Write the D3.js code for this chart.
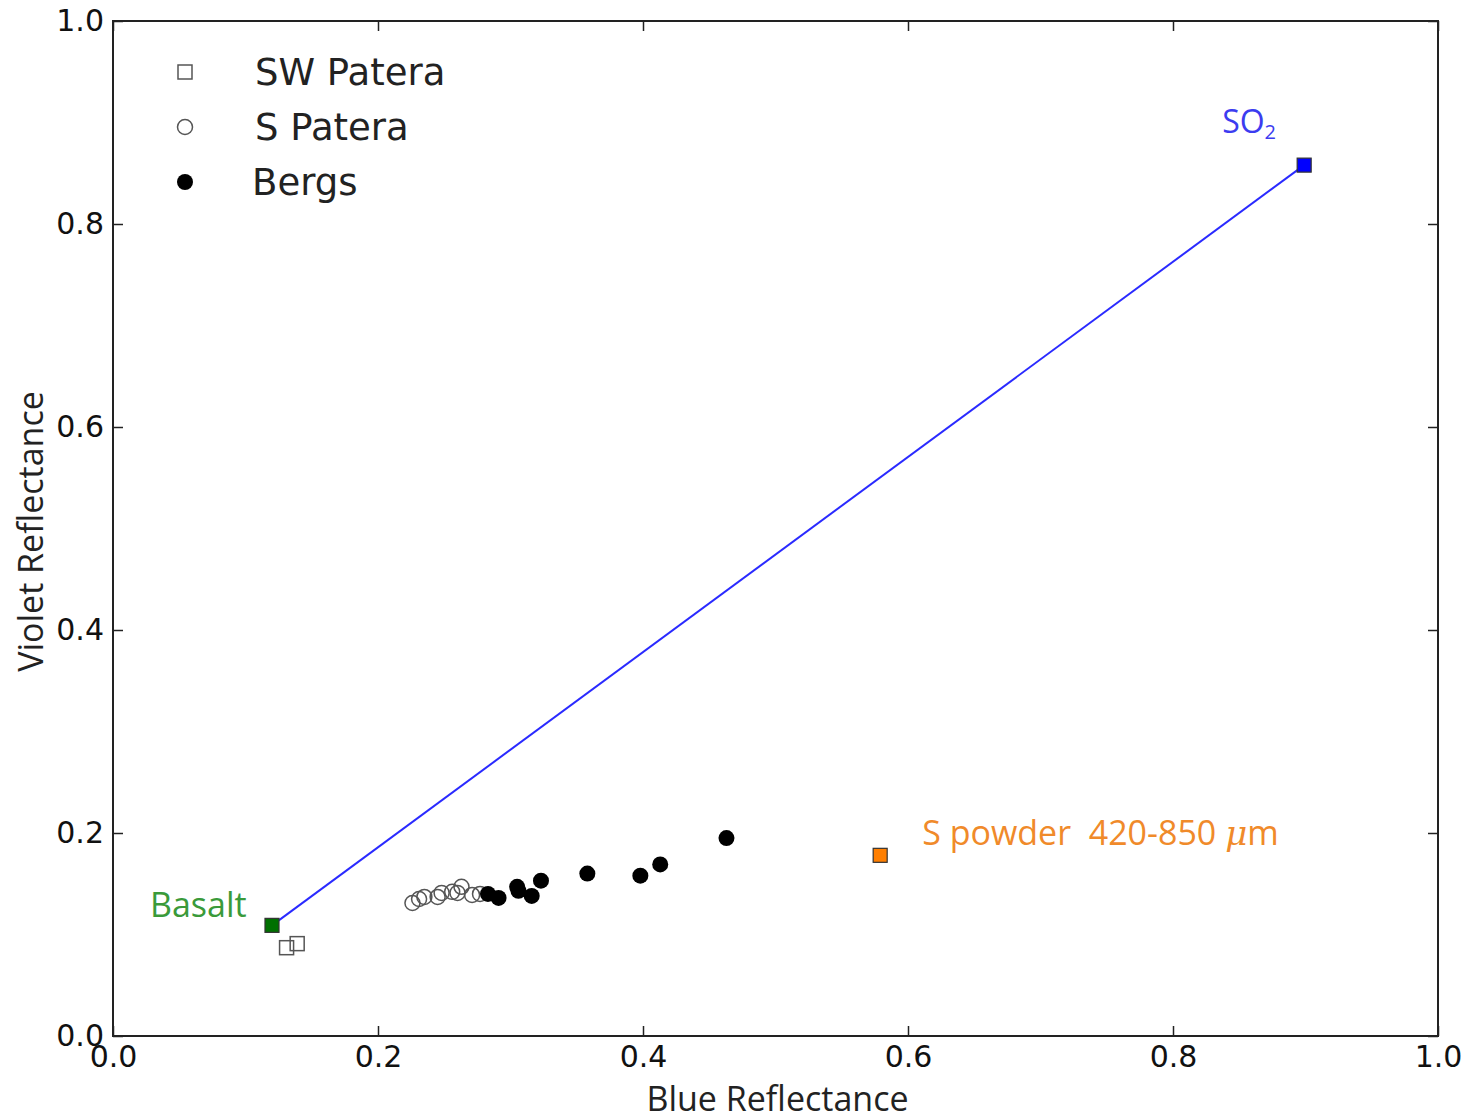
<!DOCTYPE html>
<html>
<head>
<meta charset="utf-8">
<script src="https://cdn.jsdelivr.net/npm/d3@7"></script>
<style>
  body { margin: 0; background: #fff; }
  text { white-space: pre; }
</style>
</head>
<body>
<div id="chart-area"></div>
<script>
// data
var swPateraX = [0.131, 0.139];
var swPateraY = [0.087, 0.091];

var sPateraX = [0.226, 0.231, 0.235, 0.245, 0.248, 0.256, 0.260, 0.263, 0.271, 0.277];
var sPateraY = [0.131, 0.135, 0.137, 0.137, 0.141, 0.142, 0.141, 0.147, 0.139, 0.140];

var bergsX = [0.283, 0.291, 0.305, 0.306, 0.316, 0.323, 0.358, 0.398, 0.413, 0.463];
var bergsY = [0.140, 0.136, 0.147, 0.143, 0.138, 0.153, 0.160, 0.158, 0.169, 0.195];

var basalt = [0.120, 0.109];
var so2 = [0.899, 0.858];
var sPowder = [0.579, 0.178];

var tickValues = [0, 0.2, 0.4, 0.6, 0.8, 1.0];

var margin = { left: 113, right: 41, top: 21, bottom: 81 };
var W = 1479, H = 1117;
var width = W - margin.left - margin.right;
var height = H - margin.top - margin.bottom;

var svg = d3.select("#chart-area").append("svg")
    .attr("width", W)
    .attr("height", H);

svg.append("rect").attr("width", W).attr("height", H).attr("fill", "#fff");

var g = svg.append("g")
    .attr("transform", "translate(" + margin.left + "," + margin.top + ")");

var x = d3.scaleLinear().domain([0, 1]).range([0, width]);
var y = d3.scaleLinear().domain([0, 1]).range([height, 0]);

var fmt = d3.format(".1f");
var tickFont = "DejaVu Sans";
var labelFont = "Open Sans";

// axes, ticks pointing inwards
g.append("g")
    .attr("transform", "translate(0," + height + ")")
    .call(d3.axisBottom(x).tickValues(tickValues).tickFormat(fmt).tickSize(-10).tickPadding(10));
g.append("g")
    .call(d3.axisLeft(y).tickValues(tickValues).tickFormat(fmt).tickSize(-10).tickPadding(9));
g.append("g")
    .call(d3.axisTop(x).tickValues(tickValues).tickFormat("").tickSize(-10));
g.append("g")
    .attr("transform", "translate(" + width + ",0)")
    .call(d3.axisRight(y).tickValues(tickValues).tickFormat("").tickSize(-10));

g.selectAll(".domain").remove();
g.selectAll(".tick line").attr("stroke", "#222").attr("stroke-width", 1.5);
g.selectAll(".tick text")
    .attr("font-family", tickFont)
    .attr("font-size", "30px")
    .attr("fill", "#111");

// frame
g.append("rect")
    .attr("width", width)
    .attr("height", height)
    .attr("fill", "none")
    .attr("stroke", "#222")
    .attr("stroke-width", 2);

// axis labels
g.append("text")
    .attr("x", width / 2 + 2)
    .attr("y", height + 75)
    .attr("text-anchor", "middle")
    .attr("font-family", labelFont)
    .attr("font-size", "34px")
    .attr("fill", "#222")
    .text("Blue Reflectance");

g.append("text")
    .attr("transform", "rotate(-90)")
    .attr("x", -height / 2 - 3)
    .attr("y", -70)
    .attr("text-anchor", "middle")
    .attr("font-family", labelFont)
    .attr("font-size", "34px")
    .attr("fill", "#222")
    .text("Violet Reflectance");

// mixing line
g.append("line")
    .attr("x1", x(basalt[0])).attr("y1", y(basalt[1]))
    .attr("x2", x(so2[0])).attr("y2", y(so2[1]))
    .attr("stroke", "#2a2aff")
    .attr("stroke-width", 2);

var sq = 14;
// SW Patera (open squares)
g.selectAll(".sw").data(d3.range(swPateraX.length)).enter()
    .append("rect")
    .attr("x", (i) => x(swPateraX[i]) - sq / 2)
    .attr("y", (i) => y(swPateraY[i]) - sq / 2)
    .attr("width", sq).attr("height", sq)
    .attr("fill", "none")
    .attr("stroke", "#555")
    .attr("stroke-width", 1.5);

// S Patera (open circles)
g.selectAll(".sp").data(d3.range(sPateraX.length)).enter()
    .append("circle")
    .attr("cx", (i) => x(sPateraX[i]))
    .attr("cy", (i) => y(sPateraY[i]))
    .attr("r", 7.5)
    .attr("fill", "none")
    .attr("stroke", "#555")
    .attr("stroke-width", 1.5);

// Bergs (filled circles)
g.selectAll(".bg").data(d3.range(bergsX.length)).enter()
    .append("circle")
    .attr("cx", (i) => x(bergsX[i]))
    .attr("cy", (i) => y(bergsY[i]))
    .attr("r", 8)
    .attr("fill", "#000");

// end members
function endMember(p, fill) {
    g.append("rect")
        .attr("x", x(p[0]) - sq / 2)
        .attr("y", y(p[1]) - sq / 2)
        .attr("width", sq).attr("height", sq)
        .attr("fill", fill)
        .attr("stroke", "#333")
        .attr("stroke-width", 1.2);
}
endMember(basalt, "#007000");
endMember(so2, "#0000ff");
endMember(sPowder, "#ff7f00");

// annotations
g.append("text")
    .attr("x", x(basalt[0]) - 122)
    .attr("y", y(basalt[1]) - 8)
    .attr("font-family", labelFont)
    .attr("font-size", "34px")
    .attr("fill", "#3a9a3a")
    .text("Basalt");

var so2Label = g.append("text")
    .attr("x", x(so2[0]) - 82)
    .attr("y", y(so2[1]) - 32)
    .attr("font-family", labelFont)
    .attr("font-size", "32px")
    .attr("fill", "#3c3cf0");
so2Label.append("tspan").text("SO");
so2Label.append("tspan").attr("font-size", "20px").attr("dy", 6).text("2");

var spLabel = g.append("text")
    .attr("x", x(sPowder[0]) + 42)
    .attr("y", y(sPowder[1]) - 10)
    .attr("font-family", labelFont)
    .attr("font-size", "34px")
    .attr("fill", "#f08a2a");
spLabel.append("tspan").text("S powder  420-850 ");
spLabel.append("tspan").attr("font-style", "italic").attr("font-family", "DejaVu Serif").text("\u03bc");
spLabel.append("tspan").text("m");

// legend
var legendNames = ["SW Patera", "S Patera", "Bergs"];
var legendY = [51, 106, 161];
var legend = g.append("g");
legendNames.forEach((name, i) => {
    var cy = legendY[i];
    if (i === 0) {
        legend.append("rect")
            .attr("x", 72 - 7).attr("y", cy - 7)
            .attr("width", 14).attr("height", 14)
            .attr("fill", "none").attr("stroke", "#555").attr("stroke-width", 1.5);
    } else if (i === 1) {
        legend.append("circle")
            .attr("cx", 72).attr("cy", cy).attr("r", 7.5)
            .attr("fill", "none").attr("stroke", "#555").attr("stroke-width", 1.5);
    } else {
        legend.append("circle")
            .attr("cx", 72).attr("cy", cy).attr("r", 8).attr("fill", "#000");
    }
    legend.append("text")
        .attr("x", i === 2 ? 139 : 142)
        .attr("y", cy)
        .attr("dy", "0.36em")
        .attr("font-family", "DejaVu Sans")
        .attr("font-size", "37px")
        .attr("fill", "#222")
        .text(name);
});
</script>
</body>
</html>
